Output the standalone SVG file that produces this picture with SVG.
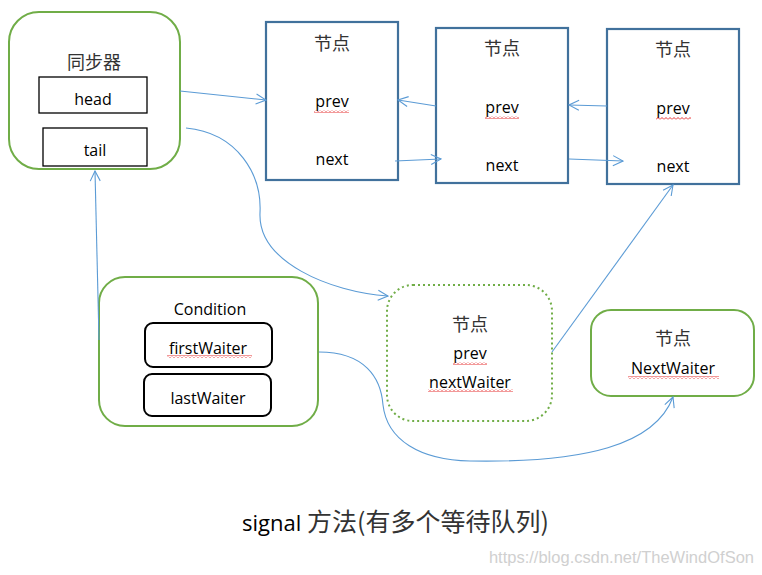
<svg xmlns="http://www.w3.org/2000/svg" width="762" height="575" viewBox="0 0 762 575">
<style>
.lat{font-family:"Open Sans","Liberation Sans",sans-serif;font-size:16px;fill:#000;text-anchor:middle}
.cjk{font-family:"Noto Sans CJK SC",sans-serif;font-size:18px;fill:#333;text-anchor:middle}
.grn{fill:#fff;stroke:#70AD47;stroke-width:2}
.dot{fill:#fff;stroke:#70AD47;stroke-width:2;stroke-dasharray:2 3}
.blu{fill:#fff;stroke:#41719C;stroke-width:2.2}
.blk{fill:#fff;stroke:#000;stroke-width:1.3}
.blkr{fill:#fff;stroke:#000;stroke-width:2}
.con{fill:none;stroke:#5B9BD5;stroke-width:1.1;marker-end:url(#ah)}
.sq{fill:url(#sqp)}
</style>
<defs>
<marker id="ah" viewBox="0 0 12 12" refX="11" refY="6" markerWidth="12" markerHeight="12" markerUnits="userSpaceOnUse" orient="auto">
<path d="M1,1 L11,6 L1,11" fill="none" stroke="#5B9BD5" stroke-width="1.1"/>
</marker>
<pattern id="sqp" width="4" height="3" patternUnits="userSpaceOnUse">
<path d="M0,2.5 L2,0.5 L4,2.5" fill="none" stroke="#E00000" stroke-width="0.8"/>
</pattern>
</defs>
<rect width="762" height="575" fill="#fff"/>

<g id="sync">
<rect class="grn" x="9" y="12" width="171" height="157" rx="30"/>
<text class="cjk" x="94" y="69">同步器</text>
<rect class="blk" x="39" y="77" width="108" height="36"/>
<text class="lat" x="93" y="105">head</text>
<rect class="blk" x="43" y="128" width="104" height="38"/>
<text class="lat" x="95" y="156">tail</text>
</g>

<g id="node1">
<rect class="blu" x="266" y="22" width="132" height="158"/>
<text class="cjk" x="332" y="50">节点</text>
<text class="lat" x="332" y="107">prev</text>
<rect class="sq" x="314" y="110" width="35" height="3"/>
<text class="lat" x="332" y="165">next</text>
</g>

<g id="node2">
<rect class="blu" x="436" y="28" width="132" height="155"/>
<text class="cjk" x="502" y="55">节点</text>
<text class="lat" x="502" y="113">prev</text>
<rect class="sq" x="485" y="116" width="34" height="3"/>
<text class="lat" x="502" y="171">next</text>
</g>

<g id="node3">
<rect class="blu" x="607" y="29" width="132" height="155"/>
<text class="cjk" x="673" y="56">节点</text>
<text class="lat" x="673" y="114">prev</text>
<rect class="sq" x="656" y="117" width="35" height="3"/>
<text class="lat" x="673" y="172">next</text>
</g>

<g id="condition">
<rect class="grn" x="99" y="277" width="219" height="149" rx="26"/>
<text class="lat" x="210" y="315">Condition</text>
<rect class="blkr" x="145" y="323" width="127" height="44" rx="8"/>
<text class="lat" x="208" y="354">firstWaiter</text>
<rect class="sq" x="167" y="355" width="85" height="3"/>
<rect class="blkr" x="144" y="374" width="127" height="42" rx="8"/>
<text class="lat" x="208" y="404">lastWaiter</text>
</g>

<g id="waitnode">
<rect class="dot" x="387" y="285" width="165" height="136" rx="26"/>
<text class="cjk" x="470" y="331">节点</text>
<text class="lat" x="470" y="359">prev</text>
<rect class="sq" x="453" y="362" width="34" height="3"/>
<text class="lat" x="470" y="388">nextWaiter</text>
<rect class="sq" x="428" y="389" width="85" height="3"/>
</g>

<g id="nextwaiter">
<rect class="grn" x="591" y="310" width="163" height="86" rx="20"/>
<text class="cjk" x="673" y="345">节点</text>
<text class="lat" x="673" y="374">NextWaiter</text>
<rect class="sq" x="628" y="376" width="91" height="3"/>
</g>

<g id="connectors">
<path class="con" d="M180,91 L266,100"/>
<path class="con" d="M436,106 L398,100"/>
<path class="con" d="M395,161 L441,159"/>
<path class="con" d="M607,106 L569,105"/>
<path class="con" d="M569,159 L623,161"/>
<path class="con" d="M186,128 C238,133 262,175 260,213 C258,262 330,292 388,296"/>
<path class="con" d="M99,340 L95,171"/>
<path class="con" d="M552,352 L673,185"/>
<path class="con" d="M319,352 C365,352 381,378 383,405 C387,440 420,460 470,461 C585,463 655,445 673,397"/>
</g>

<text x="242" y="531" style="font-family:'Open Sans','Liberation Sans','Noto Sans CJK SC',sans-serif;font-size:22px;fill:#000">signal <tspan style="font-family:'Noto Sans CJK SC',sans-serif;font-size:25px;fill:#333">方法(有多个等待队列)</tspan></text>
<text x="754" y="563" style="font-family:'Liberation Sans',sans-serif;font-size:16.5px;fill:#d0d0d0;text-anchor:end">https://blog.csdn.net/TheWindOfSon</text>
</svg>
